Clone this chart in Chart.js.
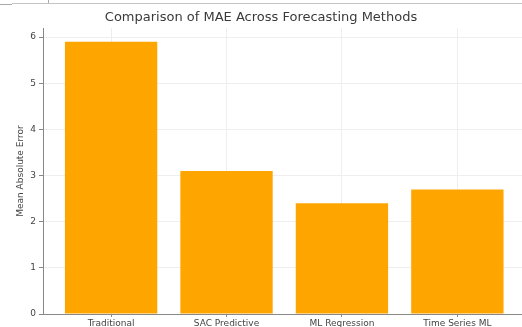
<!DOCTYPE html>
<html>
<head>
<meta charset="utf-8">
<script src="https://cdn.jsdelivr.net/npm/chart.js@4.4.1/dist/chart.umd.min.js"></script>
<style>
  html, body { margin: 0; padding: 0; background: #fff; overflow: hidden; }
  #wrap { position: relative; width: 522px; height: 327px; }
</style>
</head>
<body>
<div id="wrap"><canvas id="c" width="522" height="327"></canvas></div>
<script>
// Forecasting methods compared and their mean absolute error
const methods = ['Traditional', 'SAC Predictive', 'ML Regression', 'Time Series ML'];
const maeValues = [5.9, 3.1, 2.4, 2.7];
const yTicks = [0, 1, 2, 3, 4, 5, 6];

const FONT = "'DejaVu Sans', sans-serif";

// thin frame strokes along the top edge of the page
const topFrame = {
  id: 'topFrame',
  afterDraw(chart) {
    const ctx = chart.ctx;
    ctx.save();
    ctx.lineWidth = 1;
    ctx.strokeStyle = '#c4c4c4';
    ctx.beginPath(); ctx.moveTo(12, 3.5); ctx.lineTo(522, 3.5); ctx.stroke();
    ctx.strokeStyle = '#aaaaaa';
    ctx.beginPath(); ctx.moveTo(0, 4.5); ctx.lineTo(12, 4.5); ctx.stroke();
    ctx.beginPath(); ctx.moveTo(48.5, 0); ctx.lineTo(48.5, 3); ctx.stroke();
    ctx.restore();
  }
};

new Chart(document.getElementById('c'), {
  type: 'bar',
  data: {
    datasets: [{
      data: methods.map((m, i) => ({ x: i, y: maeValues[i] })),
      backgroundColor: '#ffa500',
      borderWidth: 0,
      categoryPercentage: 1.0,
      barPercentage: 0.8
    }]
  },
  options: {
    responsive: false,
    animation: false,
    layout: { padding: { left: 0, right: 0, top: 0, bottom: 0 } },
    plugins: {
      legend: { display: false },
      tooltip: { enabled: false },
      title: {
        display: true,
        text: 'Comparison of MAE Across Forecasting Methods',
        color: '#3a3a3a',
        font: { family: FONT, size: 13, weight: 'normal' },
        padding: { top: 10, bottom: 2.5 }
      }
    },
    scales: {
      x: {
        type: 'linear',
        min: -0.59,
        max: 3.56,
        offset: false,
        afterBuildTicks: (axis) => { axis.ticks = methods.map((_, i) => ({ value: i })); },
        afterFit: (axis) => { axis.height = 13; },
        ticks: {
          callback: (v) => methods[v] ?? '',
          color: '#444',
          font: { family: FONT, size: 9 },
          padding: 1,
          maxRotation: 0,
          autoSkip: false
        },
        grid: {
          offset: false,
          color: '#eeeeee',
          lineWidth: 1,
          drawTicks: true,
          tickLength: 3,
          tickColor: '#888'
        },
        border: { display: true, color: '#888', width: 1 }
      },
      y: {
        min: 0,
        max: 6.195,
        afterBuildTicks: (axis) => { axis.ticks = yTicks.map(v => ({ value: v })); },
        afterFit: (axis) => { axis.width = 43; },
        ticks: {
          color: '#444',
          font: { family: FONT, size: 9 },
          padding: 3
        },
        grid: {
          color: '#eeeeee',
          lineWidth: 1,
          tickLength: 4,
          tickColor: '#888'
        },
        border: { display: true, color: '#888', width: 1 },
        title: {
          display: true,
          text: 'Mean Absolute Error',
          color: '#444',
          font: { family: FONT, size: 9 },
          padding: { top: 15.5, bottom: 0 }
        }
      }
    }
  },
  plugins: [topFrame]
});
</script>
</body>
</html>
